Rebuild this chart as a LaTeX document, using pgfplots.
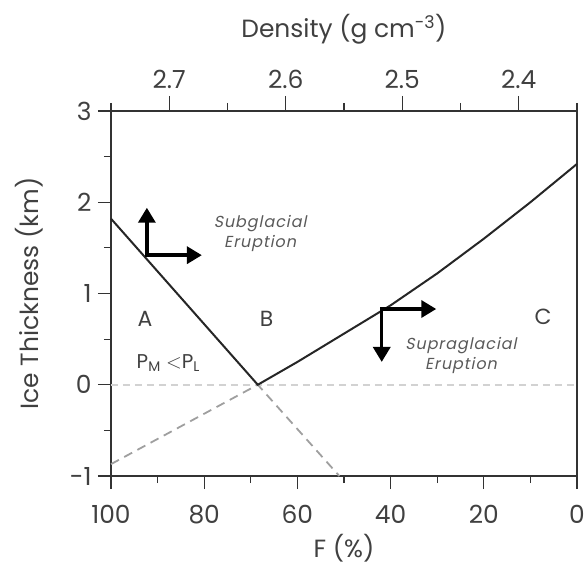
\documentclass[border=0pt]{standalone}
\usepackage{fontspec}
\setmainfont{Poppins}
\newfontfamily\notefont[FakeSlant=0.2,LetterSpace=6]{Poppins}
\usepackage{pgfplots}
\pgfplotsset{compat=1.18}
\usetikzlibrary{arrows.meta}
\definecolor{txt}{gray}{0.25}

\begin{document}
\begin{tikzpicture}
\useasboundingbox (-111bp,-91bp) rectangle (475bp,476bp);
% top axis: density
\begin{axis}[
  width=466bp, height=365bp, scale only axis,
  xmin=2.35, xmax=2.75, x dir=reverse, ymin=-1, ymax=3,
  axis x line*=top, axis y line=none,
  xtick={2.4,2.5,2.6,2.7}, minor xtick={2.35,2.45,2.55,2.65,2.75},
  tick align=outside,
  major tick length=15bp, minor tick length=8bp,
  every tick/.style={black!80, line width=1.2bp},
  axis line style={black!80, line width=1.2bp},
  xticklabel style={font=\fontsize{25}{28}\selectfont, text=txt, yshift=4bp,
    /pgf/number format/.cd, fixed, precision=1, fixed zerofill},
  /pgf/number format/assume math mode=true,
  xlabel={Density (g cm\textsuperscript{-3})},
  xlabel style={font=\fontsize{25}{28}\selectfont, text=txt,
    at={(axis description cs:0.5,1.225)}, anchor=center},
]
\end{axis}
% main axis
\begin{axis}[
  width=466bp, height=365bp, scale only axis,
  xmin=0, xmax=100, x dir=reverse, ymin=-1, ymax=3,
  xtick={0,20,...,100}, ytick={-1,0,1,2,3},
  yticklabels={-1,0,1,2,3},
  minor tick num=1,
  xtick pos=left, ytick pos=left,
  tick align=outside,
  major tick length=13bp, minor tick length=7bp,
  every tick/.style={black!80, line width=1.2bp},
  axis line style={black!80, line width=1.2bp},
  tick label style={font=\fontsize{25}{28}\selectfont, text=txt},
  xticklabel style={yshift=-13bp},
  yticklabel style={xshift=-3bp},
  /pgf/number format/assume math mode=true,
  xlabel={F (\%)}, ylabel={Ice Thickness (km)},
  label style={font=\fontsize{25}{28}\selectfont, text=txt},
  xlabel style={at={(axis description cs:0.5,-0.197)}, anchor=center},
  ylabel style={at={(axis description cs:-0.176,0.5)}, anchor=center},
  clip=false,
]
\addplot[gray!35, dash pattern=on 7bp off 5bp, line width=1.8bp] coordinates {(100,0) (0,0)};
\addplot[gray!75, dash pattern=on 9bp off 6bp, line width=1.8bp] coordinates {(100,-0.87) (68.5,0) (51,-1)};
\addplot[black!85, line width=2bp] coordinates {
  (100,1.82) (68.5,0) (60,0.25) (50,0.56) (40,0.87) (30,1.22) (20,1.6) (10,2.0) (0,2.42)};

% arrows
\addplot[black, line width=3.5bp, line cap=rect, -{Triangle[length=15bp,width=17bp]}] coordinates {(92.3,1.42) (92.3,1.94)};
\addplot[black, line width=3.5bp, line cap=rect, -{Triangle[length=15bp,width=17bp]}] coordinates {(92.3,1.42) (80.5,1.42)};
\addplot[black, line width=3.5bp, line cap=rect, -{Triangle[length=15bp,width=17bp]}] coordinates {(41.9,0.83) (30.2,0.83)};
\addplot[black, line width=3.5bp, line cap=rect, -{Triangle[length=15bp,width=17bp]}] coordinates {(41.9,0.83) (41.9,0.25)};

% labels
\node[font=\fontsize{22}{24}\selectfont, text=txt] at (axis cs:92.7,0.72) {A};
\node[font=\fontsize{22}{24}\selectfont, text=txt] at (axis cs:66.6,0.72) {B};
\node[font=\fontsize{22}{24}\selectfont, text=txt] at (axis cs:7.3,0.74) {C};
\node[font=\fontsize{20}{22}\selectfont, text=txt] at (axis cs:87.7,0.24) {P\textsubscript{M} $<$P\textsubscript{L}};
\node[font=\notefont\fontsize{16}{20}\selectfont, text=black!65, align=center] at (axis cs:68,1.66) {Subglacial\\Eruption};
\node[font=\notefont\fontsize{16}{20}\selectfont, text=black!65, align=center] at (axis cs:24.9,0.32) {Supraglacial\\Eruption};
\end{axis}
\end{tikzpicture}
\end{document}
